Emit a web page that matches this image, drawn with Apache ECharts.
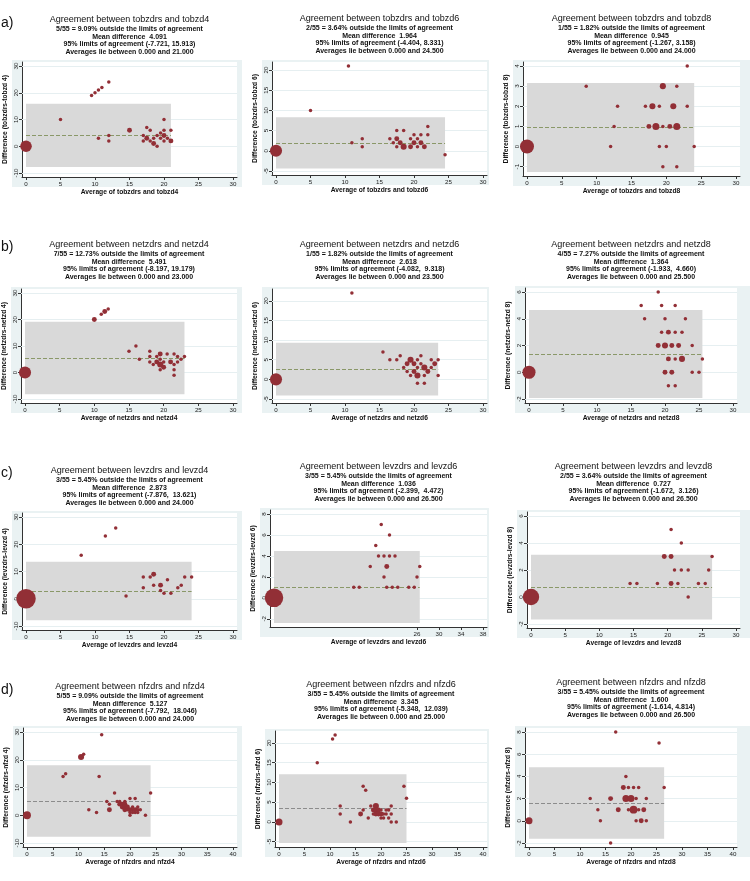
<!DOCTYPE html>
<html>
<head>
<meta charset="utf-8">
<script src="https://cdn.jsdelivr.net/npm/echarts@6/dist/echarts.min.js"></script>
<style>
  html, body { margin: 0; padding: 0; background: #fff; }
  #chart { width: 750px; height: 881px; }
</style>
</head>
<body>
<div id="chart"></div>
<script>
// 每个点：[平均值, 差值, 频数]
const tobzd4Pts = [[0, 0, 11], [5, 10, 1], [9.5, 19, 1], [10, 20, 1], [10.5, 21, 1], [11, 22, 1], [12, 24, 1], [10.5, 3, 1], [12, 4, 1], [12, 2, 1], [15, 6, 2], [17, 4, 1], [17, 2, 1], [17.5, 7, 1], [17.5, 3, 2], [18, 6, 1], [18, 2, 1], [18.5, 1, 2], [18.5, 3, 1], [19, 4, 1], [19, 0, 1], [19.5, 5, 1], [19.5, 3, 1], [20, 10, 1], [20, 6, 1], [20, 4, 2], [20, 2, 1], [20.5, 3, 1], [21, 6, 1], [21, 2, 2]]
const tobzd6Pts = [[0, 0, 12], [5, 10, 1], [10.5, 21, 1], [11, 2, 1], [12.5, 3, 1], [12.5, 1, 1], [16.5, 3, 1], [17, 2, 1], [17.5, 5, 1], [17.5, 3, 2], [17.5, 1, 1], [18, 2, 2], [18.5, 5, 1], [18.5, 1, 3], [19.5, 3, 1], [19.5, 1, 2], [20, 4, 1], [20, 2, 2], [20.5, 3, 1], [20.5, 1, 1], [21, 4, 1], [21, 2, 2], [21.5, 1, 2], [22, 6, 1], [22, 4, 1], [24.5, -1, 1]]
const tobzd8Pts = [[0, 0, 16], [8.5, 3, 1], [12, 0, 1], [12.5, 1, 1], [13, 2, 1], [17, 2, 1], [18, 2, 3], [17.5, 1, 2], [18.5, 1, 4], [19, 2, 1], [19, 0, 1], [19.5, 3, 3], [19.5, 1, 1], [19.5, -1, 1], [20, 0, 1], [20.5, 1, 2], [21, 2, 3], [21.5, 1, 4], [21.5, 3, 1], [21.5, -1, 1], [23, 4, 1], [23, 2, 1], [24, 0, 1]]
const netzd4Pts = [[0, 0, 12], [10, 20, 2], [11, 22, 1], [11.5, 23, 2], [12, 24, 1], [15, 8, 1], [16, 10, 1], [16.5, 5, 1], [18, 8, 1], [18, 6, 1], [18, 4, 1], [18.5, 3, 1], [19, 6, 1], [19, 4, 2], [19.5, 7, 2], [19.5, 5, 1], [19.5, 3, 3], [19.5, 1, 1], [20, 2, 2], [20, 4, 1], [20.5, 7, 1], [21, 4, 2], [21.5, 7, 1], [21.5, 3, 1], [21.5, 1, 1], [21.5, -1, 1], [22, 6, 1], [22, 4, 1], [22.5, 5, 1], [23, 6, 1]]
const netzd6Pts = [[0, 0, 12], [11, 22, 1], [15.5, 7, 1], [16.5, 5, 1], [17.5, 5, 1], [18, 6, 1], [18.5, 3, 1], [19, 4, 2], [19, 2, 1], [19.5, 5, 3], [19.5, 1, 1], [20, 4, 2], [20, 2, 2], [20.5, 5, 1], [20.5, 3, 1], [20.5, 1, 3], [20.5, -1, 1], [21, 6, 1], [21, 4, 1], [21.5, 3, 3], [21.5, 1, 1], [21.5, -1, 1], [22, 2, 2], [22.5, 5, 1], [22.5, 3, 1], [23, 4, 2], [23.5, 5, 1], [23.5, 1, 1]]
const netzd8Pts = [[0, 0, 14], [16.5, 5, 1], [17, 4, 1], [19, 6, 1], [19.5, 5, 1], [19.5, 3, 1], [19, 2, 2], [20, 4, 1], [20, 2, 3], [20, 0, 2], [20.5, 3, 2], [20.5, 1, 2], [20.5, -1, 1], [21, 2, 2], [21, 0, 2], [21.5, 5, 1], [21.5, 3, 1], [21.5, 1, 1], [21.5, -1, 1], [22, 2, 2], [22.5, 3, 1], [22.5, 1, 3], [23, 4, 1], [24, 2, 1], [24, 0, 1], [25, 0, 1], [25.5, 1, 1]]
const levzd4Pts = [[0, 0, 31], [8, 16, 1], [11.5, 23, 1], [13, 26, 1], [14.5, 1, 1], [17, 8, 1], [17, 4, 1], [18, 8, 1], [18.5, 9, 2], [18.5, 5, 1], [19.5, 5, 2], [19.5, 3, 1], [20, 2, 1], [20.5, 7, 1], [21, 2, 1], [22, 4, 1], [22.5, 5, 1], [23, 8, 1], [24, 8, 1]]
const levzd6Pts = [[0, 0, 28], [14.5, 1, 1], [15.5, 1, 1], [17.5, 3, 1], [18.5, 5, 1], [19, 4, 1], [19.5, 7, 1], [20, 2, 1], [20, 4, 1], [20.5, 3, 2], [20.5, 1, 1], [21, 6, 1], [21, 4, 1], [21.5, 1, 1], [22, 4, 1], [22.5, 1, 1], [24.5, 1, 1], [25.5, 1, 1], [26, 2, 1], [26.5, 3, 1]]
const levzd8Pts = [[0, 0, 22], [14.5, 1, 1], [15.5, 1, 1], [18.5, 1, 1], [19.5, 3, 2], [20.5, 3, 2], [20.5, 5, 1], [20.5, 1, 2], [21, 2, 1], [21.5, 1, 1], [22, 4, 1], [22, 2, 1], [23, 2, 1], [23, 0, 1], [24.5, 1, 1], [25.5, 1, 1], [26, 2, 1], [26.5, 3, 1]]
const nfzd4Pts = [[0, 0, 5], [7, 14, 1], [7.5, 15, 1], [10.5, 21, 3], [11, 22, 1], [12, 2, 1], [13.5, 1, 1], [14, 14, 1], [14.5, 29, 1], [15.5, 5, 1], [16, 4, 1], [16, 2, 2], [17, 8, 1], [17.5, 5, 1], [18, 5, 1], [18, 4, 2], [18.5, 4, 2], [18.5, 3, 2], [19, 5, 1], [19, 4, 2], [19, 3, 2], [19, 2, 2], [19.5, 3, 2], [19.5, 2, 1], [20, 6, 1], [20, 2, 2], [20, 1, 1], [20, 0, 1], [20.5, 3, 1], [20.5, 2, 1], [20.5, 1, 1], [21, 6, 1], [21, 2, 2], [21, 1, 1], [21.5, 3, 1], [21.5, 2, 1], [21.5, 1, 1], [22, 2, 1], [23, 0, 1], [24, 8, 1]]
const nfzd6Pts = [[0, 0, 4], [7.5, 15, 1], [10.5, 21, 1], [11, 22, 1], [12, 4, 1], [12, 2, 1], [14, 0, 1], [16, 2, 2], [16.5, 3, 1], [16.5, 9, 1], [17, 8, 1], [17.5, 1, 1], [18, 4, 1], [18.5, 3, 2], [18.5, 2, 1], [19, 4, 3], [19, 3, 2], [19, 2, 2], [19.5, 3, 2], [19.5, 2, 2], [20, 3, 1], [20, 2, 2], [20, 1, 1], [20.5, 2, 1], [20.5, 1, 1], [21, 3, 1], [21, 2, 1], [21.5, 3, 1], [21.5, 1, 1], [22, 4, 1], [22, 2, 1], [22, 0, 1], [23, 0, 1], [24.5, 9, 1], [25, 6, 1]]
const nfzd8Pts = [[0, 0, 4], [12, 2, 1], [13.5, 1, 1], [14, 0, 1], [16, 2, 2], [16, -2, 1], [17, 8, 1], [17.5, 1, 2], [18.5, 3, 2], [19, 4, 1], [19, 2, 4], [19.5, 3, 1], [19.5, 1, 1], [20, 2, 4], [20.5, 3, 1], [20.5, 1, 5], [21, 2, 1], [21, 0, 1], [21.5, 3, 1], [21.5, 1, 1], [22, 0, 2], [22.5, 1, 2], [23, 2, 1], [23, 0, 1], [25.5, 7, 1], [26.5, 3, 1]]

// 每个小图的统计量（按 a1..d3 顺序）
const refVar = ['tobzdrs', 'tobzdrs', 'tobzdrs', 'netzdrs', 'netzdrs', 'netzdrs', 'levzdrs', 'levzdrs', 'levzdrs', 'nfzdrs', 'nfzdrs', 'nfzdrs']
const cmpVar = ['tobzd4', 'tobzd6', 'tobzd8', 'netzd4', 'netzd6', 'netzd8', 'levzd4', 'levzd6', 'levzd8', 'nfzd4', 'nfzd6', 'nfzd8']
const outsideN = [5, 2, 1, 7, 1, 4, 3, 3, 2, 5, 3, 3]
const totalN = 55
const meanDiff = [4.091, 1.964, 0.945, 5.491, 2.618, 1.364, 2.873, 1.036, 0.727, 5.127, 3.345, 1.600]
const loaLow = [-7.721, -4.404, -1.267, -8.197, -4.082, -1.933, -7.876, -2.399, -1.672, -7.792, -5.348, -1.614]
const loaHigh = [15.913, 8.331, 3.158, 19.179, 9.318, 4.660, 13.621, 4.472, 3.126, 18.046, 12.039, 4.814]
const avgMax = [21, 24.5, 24, 23, 23.5, 25.5, 24, 26.5, 26.5, 24, 25, 26.5]
const loaSpaces = [1, 1, 1, 1, 2, 2, 2, 2, 2, 2, 2, 1]

// 刻度
const xTicks30 = [0, 5, 10, 15, 20, 25, 30]
const xTicks40 = [0, 5, 10, 15, 20, 25, 30, 35, 40]
const xTicksLev6 = [26, 30, 34, 38]
const yTicks30 = [-10, 0, 10, 20, 30]
const yTicks20 = [-5, 0, 5, 10, 15, 20]
const yTicks4 = [-1, 0, 1, 2, 3, 4]
const yTicks6 = [-2, 0, 2, 4, 6]
const yTicks8 = [-2, 0, 2, 4, 6, 8]
const rowLabels = ['a)', 'b)', 'c)', 'd)']

const FONT = '"Liberation Sans", Arial, Helvetica, sans-serif'
const MAROON = '#922f36'
const OLIVE = '#8a9868'
const GREYLINE = '#8c8c8c'
const BAND = '#d9d9d9'
const FRAME = '#eaf2f3'
const GRIDC = '#e6eff1'
const AXISC = '#333'

// 版面：白色绘图区 [左, 上, 右, 下]，标题首行 y
const panels = [
  { pts: tobzd4Pts, xTicks: xTicks30, yTicks: yTicks30, box: [22, 62, 237, 177], titleY: 20 },
  { pts: tobzd6Pts, xTicks: xTicks30, yTicks: yTicks20, box: [272, 62, 487, 175], titleY: 19 },
  { pts: tobzd8Pts, xTicks: xTicks30, yTicks: yTicks4, box: [523, 62, 740, 176], titleY: 19 },
  { pts: netzd4Pts, xTicks: xTicks30, yTicks: yTicks30, box: [21, 289, 237, 403], titleY: 245 },
  { pts: netzd6Pts, xTicks: xTicks30, yTicks: yTicks20, box: [272, 289, 487, 403], titleY: 245 },
  { pts: netzd8Pts, xTicks: xTicks30, yTicks: yTicks6, box: [525, 288, 737, 403], titleY: 245 },
  { pts: levzd4Pts, xTicks: xTicks30, yTicks: yTicks30, box: [22, 513, 237, 630], titleY: 471 },
  { pts: levzd6Pts, xTicks: xTicksLev6, yTicks: yTicks8, box: [270, 510, 487, 627], titleY: 467 },
  { pts: levzd8Pts, xTicks: xTicks30, yTicks: yTicks6, box: [527, 512, 740, 628], titleY: 467 },
  { pts: nfzd4Pts, xTicks: xTicks40, yTicks: yTicks30, box: [23, 728, 237, 847], titleY: 687 },
  { pts: nfzd6Pts, xTicks: xTicks40, yTicks: yTicks20, box: [275, 731, 487, 847], titleY: 685 },
  { pts: nfzd8Pts, xTicks: xTicks40, yTicks: yTicks8, box: [525, 728, 737, 847], titleY: 683 }
]
const rowLabelY = [23, 247, 473, 690]
const frameRight = [5, 2, 13]

// 像 Stata 一样给坐标范围留 4px 边距
function padRange(lo, hi, px, pad) {
  const ppu = (px - 2 * pad) / (hi - lo)
  return [lo - pad / ppu, hi + pad / ppu]
}

function txt(text, x, y, size, weight, align) {
  return {
    type: 'text',
    x: x,
    y: y,
    z: 10,
    style: {
      text: text,
      font: `${weight} ${size}px ${FONT}`,
      fill: '#111',
      textAlign: align || 'center',
      textVerticalAlign: 'middle'
    }
  }
}

const grid = [], xAxis = [], yAxis = [], series = [], graphic = []

panels.forEach((p, i) => {
  const [l, t, r, b] = p.box
  const col = i % 3
  const xs = p.pts.map(d => d[0]), ys = p.pts.map(d => d[1])
  const xr = padRange(Math.min(p.xTicks[0], 0, ...xs), Math.max(p.xTicks[p.xTicks.length - 1], avgMax[i], ...xs), r - l, 4)
  const yr = padRange(Math.min(p.yTicks[0], loaLow[i], ...ys), Math.max(p.yTicks[p.yTicks.length - 1], loaHigh[i], ...ys), b - t, 4)
  const a = refVar[i], c = cmpVar[i]

  grid.push({ left: l, top: t, width: r - l, height: b - t, show: false })

  xAxis.push({
    gridIndex: i, type: 'value', min: xr[0], max: xr[1],
    axisLine: { onZero: false, lineStyle: { color: AXISC, width: 1 } },
    axisTick: { customValues: p.xTicks, length: 3, lineStyle: { color: AXISC } },
    axisLabel: { customValues: p.xTicks, fontSize: 6.2, color: '#222', margin: 4, fontFamily: FONT },
    splitLine: { show: false },
    name: `Average of ${a} and ${c}`,
    nameLocation: 'middle', nameGap: 12,
    nameTextStyle: { fontSize: 6.7, fontWeight: 'bold', fontFamily: FONT, color: '#111' }
  })
  yAxis.push({
    gridIndex: i, type: 'value', min: yr[0], max: yr[1],
    axisLine: { onZero: false, lineStyle: { color: AXISC, width: 1 } },
    axisTick: { customValues: p.yTicks, length: 3, lineStyle: { color: AXISC } },
    axisLabel: { customValues: p.yTicks, fontSize: 6.2, color: '#222', margin: 3, rotate: 90, fontFamily: FONT },
    splitLine: { show: false },
    name: `Difference (${a}-${c.slice(0, -1)} ${c.slice(-1)})`,
    nameLocation: 'middle', nameGap: 13, nameRotate: 90,
    nameTextStyle: { fontSize: 6.7, fontWeight: 'bold', fontFamily: FONT, color: '#111' }
  })

  const base = { xAxisIndex: i, yAxisIndex: i, data: [], silent: true, animation: false }
  // 网格线（markLine 默认 z 为 5，需要手动压低）
  series.push({
    ...base, type: 'scatter', z: 1,
    markLine: {
      z: 1, silent: true, symbol: 'none', label: { show: false },
      lineStyle: { color: GRIDC, width: 1, type: 'solid' },
      data: p.yTicks.map(v => ({ yAxis: v }))
    }
  })
  // 一致性界限灰带
  series.push({
    ...base, type: 'scatter', z: 2,
    markArea: {
      z: 2, silent: true, itemStyle: { color: BAND },
      data: [[{ coord: [0, loaLow[i]] }, { coord: [avgMax[i], loaHigh[i]] }]]
    }
  })
  // 平均差虚线
  series.push({
    ...base, type: 'scatter', z: 3,
    markLine: {
      z: 3, silent: true, symbol: 'none', label: { show: false },
      lineStyle: { color: i >= 9 ? GREYLINE : OLIVE, width: 1, type: [4, 2] },
      data: [[{ coord: [0, meanDiff[i]] }, { coord: [avgMax[i], meanDiff[i]] }]]
    }
  })
  // 数据点，面积按频数
  series.push({
    type: 'scatter', xAxisIndex: i, yAxisIndex: i, z: 6, animation: false,
    data: p.pts,
    symbolSize: d => 3.5 * Math.sqrt(d[2]),
    itemStyle: { color: MAROON, opacity: 1 }
  })

  // 外框（浅蓝）与白色绘图区
  graphic.push({
    type: 'rect', z: -10,
    shape: { x: l - 10, y: t - 2, width: r - l + 10 + frameRight[col], height: b - t + 12 },
    style: { fill: FRAME }
  })
  graphic.push({
    type: 'rect', z: -9,
    shape: { x: l, y: t, width: r - l, height: b - t },
    style: { fill: '#fff' }
  })

  // 标题
  const cx = (l + r) / 2, ty = p.titleY
  const pct = (outsideN[i] / totalN * 100).toFixed(2)
  graphic.push(txt(`Agreement between ${a} and ${c}`, cx, ty, 9, 'normal'))
  graphic.push(txt(`${outsideN[i]}/${totalN} = ${pct}% outside the limits of agreement`, cx, ty + 9, 7, 'bold'))
  graphic.push(txt(`Mean difference  ${meanDiff[i].toFixed(3)}`, cx, ty + 16.7, 7, 'bold'))
  graphic.push(txt(`95% limits of agreement (${loaLow[i].toFixed(3)},${' '.repeat(loaSpaces[i])}${loaHigh[i].toFixed(3)})`, cx, ty + 24.4, 7, 'bold'))
  graphic.push(txt(`Averages lie between 0.000 and ${avgMax[i].toFixed(3)}`, cx, ty + 32, 7, 'bold'))
})

rowLabels.forEach((s, k) => {
  graphic.push(txt(s, 1, rowLabelY[k], 14, 'normal', 'left'))
})

const chart = echarts.init(document.getElementById('chart'))
chart.setOption({
  backgroundColor: '#fff',
  animation: false,
  textStyle: { fontFamily: FONT },
  grid, xAxis, yAxis, series, graphic
})
</script>
</body>
</html>
